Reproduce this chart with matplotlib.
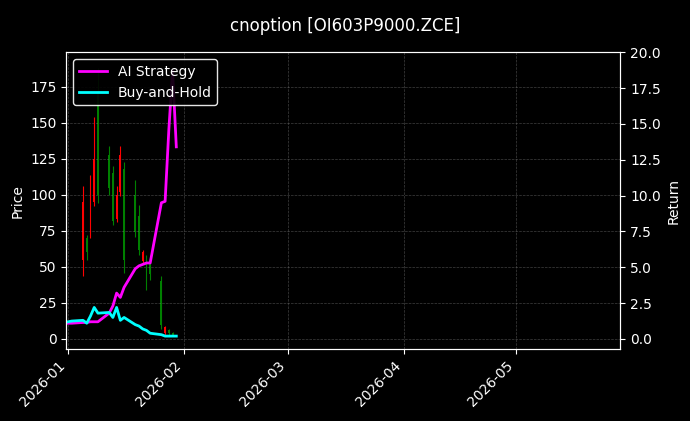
import numpy as np
import pandas as pd
import matplotlib
matplotlib.use("Agg")
import matplotlib.pyplot as plt
import matplotlib.dates as mdates

# candles: date, open, high, low, close
candle_dates = pd.to_datetime(['2026-01-05', '2026-01-06', '2026-01-07', '2026-01-08', '2026-01-09',
                               '2026-01-12', '2026-01-13', '2026-01-14', '2026-01-15', '2026-01-16',
                               '2026-01-19', '2026-01-20', '2026-01-21', '2026-01-22', '2026-01-23',
                               '2026-01-26', '2026-01-27', '2026-01-28', '2026-01-29'])
opens = [55, 70, 74, 95, 170, 128, 115, 83, 102, 118, 100, 85, 54, 55, 52, 40, 4, 6, 4]
highs = [106, 72, 114, 154, 188, 134, 120, 106, 134, 123, 110, 93, 62, 58, 58, 44, 9, 7, 5]
lows = [44, 55, 70, 92, 94, 100, 79, 81, 99, 46, 71, 58, 53, 34, 41, 7, 3, 3, 2]
closes = [95, 60, 88, 125, 100, 105, 82, 100, 128, 55, 74, 62, 60, 40, 45, 10, 8, 4, 3]

line_dates = pd.to_datetime(['2026-01-01', '2026-01-02', '2026-01-05', '2026-01-06', '2026-01-07',
                             '2026-01-08', '2026-01-09', '2026-01-12', '2026-01-13', '2026-01-14',
                             '2026-01-15', '2026-01-16', '2026-01-19', '2026-01-20', '2026-01-21',
                             '2026-01-22', '2026-01-23', '2026-01-26', '2026-01-27', '2026-01-28',
                             '2026-01-29', '2026-01-30'])
ai_return = [1.1, 1.1, 1.15, 1.15, 1.2, 1.2, 1.2, 1.8, 2.3, 3.2, 2.9, 3.6, 4.9, 5.1, 5.2,
             5.3, 5.3, 9.5, 9.6, 14.6, 18.7, 13.4]
bh_return = [1.2, 1.25, 1.3, 1.1, 1.6, 2.2, 1.8, 1.85, 1.5, 2.2, 1.3, 1.5, 1.0, 0.9, 0.7,
             0.6, 0.4, 0.3, 0.2, 0.2, 0.2, 0.2]

plt.style.use('dark_background')
fig = plt.figure(figsize=(6.9, 4.21), dpi=100)
ax = fig.add_axes([0.096, 0.171, 0.803, 0.705])
ax2 = ax.twinx()

for d, o, h, l, c in zip(candle_dates, opens, highs, lows, closes):
    col = 'red' if c >= o else 'green'
    ax.vlines(d, l, h, color=col, linewidth=0.8)
    ax.bar(d, abs(c - o), bottom=min(o, c), width=0.5, color=col)

ax2.plot(line_dates, ai_return, color='magenta', linewidth=2, label='AI Strategy')
ax2.plot(line_dates, bh_return, color='cyan', linewidth=2, label='Buy-and-Hold')

ax.set_ylim(-7, 199)
ax2.set_ylim(-0.7, 20)
ax.set_xlim(pd.Timestamp('2025-12-31 12:00'), pd.Timestamp('2026-05-29'))
ax.xaxis.set_major_locator(mdates.MonthLocator())
ax.xaxis.set_major_formatter(mdates.DateFormatter('%Y-%m'))
plt.setp(ax.get_xticklabels(), rotation=45, ha='right')
ax.set_ylabel('Price')
ax2.set_ylabel('Return')
ax.grid(True, linestyle='--', linewidth=0.5, color='gray', alpha=0.5)
ax2.legend(loc='upper left', facecolor='black', edgecolor='white', framealpha=0.9)
fig.suptitle('cnoption [OI603P9000.ZCE]', y=0.96)

fig.savefig('out.png', facecolor='black')
